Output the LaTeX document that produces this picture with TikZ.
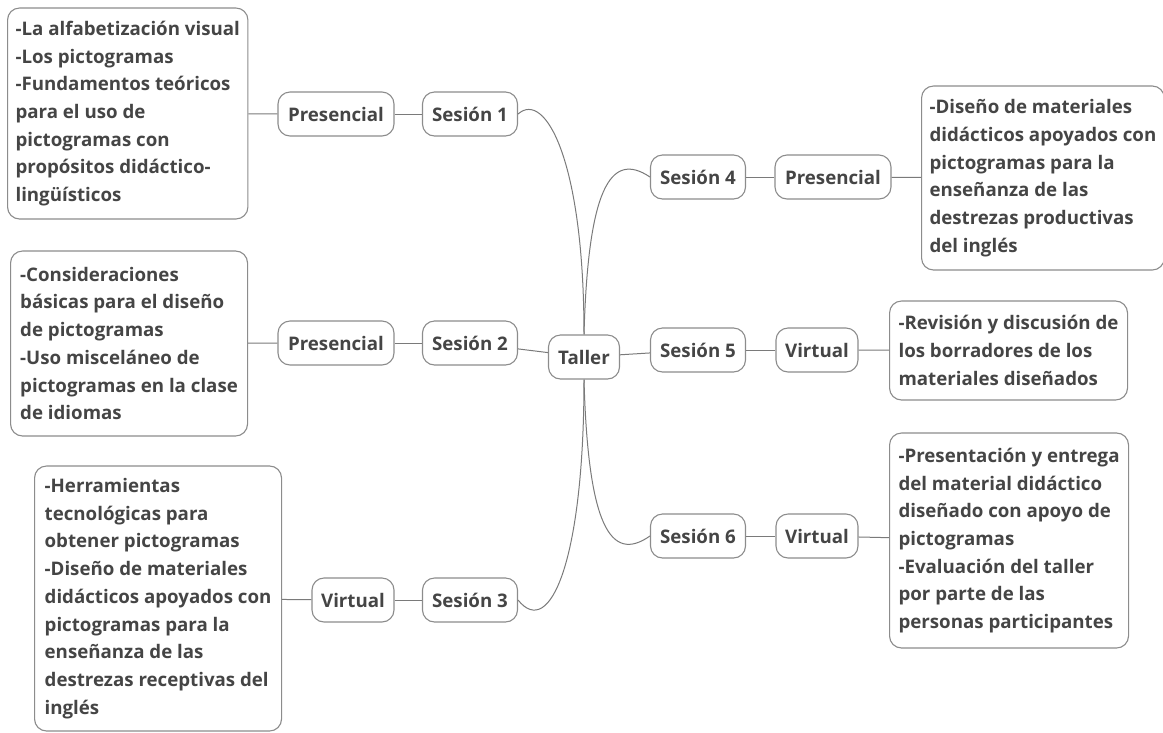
\documentclass[tikz,border=0pt]{standalone}
\usepackage{fontspec}
\setmainfont{Open Sans}
\definecolor{txtgray}{HTML}{454545}
\definecolor{linegray}{HTML}{7A7A7A}
\definecolor{boxgray}{HTML}{8C8C8C}
\tikzset{
  base/.style={draw=boxgray,line width=1.1pt,rounded corners=12pt,fill=white,
    text=txtgray,font=\bfseries\fontsize{18.7}{27.7}\selectfont},
  tag/.style={base,minimum height=44pt,inner xsep=9pt},
  info/.style={base,align=left,anchor=west,inner xsep=8pt,inner ysep=0pt},
  link/.style={draw=linegray,line width=1pt}
}
\begin{document}
\begin{tikzpicture}[x=1pt,y=-1pt]
  \useasboundingbox (0,0) rectangle (1163,732);
  % centre
  \node[tag,minimum width=71pt] (taller) at (584,357) {Taller};
  % left branch
  \node[tag,minimum width=95pt] (s1) at (470,114) {Sesión 1};
  \node[tag,minimum width=95pt] (s2) at (470,343) {Sesión 2};
  \node[tag,minimum width=95pt] (s3) at (470,600) {Sesión 3};
  \node[tag,minimum width=116pt] (p1) at (336,114) {Presencial};
  \node[tag,minimum width=116pt] (p2) at (336,343) {Presencial};
  \node[tag,minimum width=82pt] (v3) at (353,600) {Virtual};
  \node[info,minimum width=240pt,minimum height=211pt] (d1) at (7,113.5)
    {-La alfabetización visual\\-Los pictogramas\\-Fundamentos teóricos\\para el uso de\\pictogramas con\\propósitos didáctico-\\lingüísticos};
  \node[info,minimum width=237pt,minimum height=185pt] (d2) at (10,343.5)
    {-Consideraciones\\básicas para el diseño\\de pictogramas\\-Uso misceláneo de\\pictogramas en la clase\\de idiomas};
  \node[info,minimum width=247pt,minimum height=265pt] (d3) at (34,598.5)
    {-Herramientas\\tecnológicas para\\obtener pictogramas\\-Diseño de materiales\\didácticos apoyados con\\pictogramas para la\\enseñanza de las\\destrezas receptivas del\\inglés};
  % right branch
  \node[tag,minimum width=95pt] (s4) at (698,177) {Sesión 4};
  \node[tag,minimum width=95pt] (s5) at (698,350) {Sesión 5};
  \node[tag,minimum width=95pt] (s6) at (698,536) {Sesión 6};
  \node[tag,minimum width=116pt] (p4) at (833,177) {Presencial};
  \node[tag,minimum width=82pt] (v5) at (817,350) {Virtual};
  \node[tag,minimum width=82pt] (v6) at (817,536) {Virtual};
  \node[info,minimum width=241pt,minimum height=184pt] (d4) at (921,178)
    {-Diseño de materiales\\didácticos apoyados con\\pictogramas para la\\enseñanza de las\\destrezas productivas\\del inglés};
  \node[info,minimum width=238pt,minimum height=99pt] (d5) at (889,350.5)
    {-Revisión y discusión de\\los borradores de los\\materiales diseñados};
  \node[info,minimum width=239pt,minimum height=215pt] (d6) at (889,540.5)
    {-Presentación y entrega\\del material didáctico\\diseñado con apoyo de\\pictogramas\\-Evaluación del taller\\por parte de las\\personas participantes};
  % connectors
  \draw[link] (s1.east) .. controls (545,90) and (584,160) .. (taller.north);
  \draw[link] (s2) -- (taller);
  \draw[link] (s3.east) .. controls (550,640) and (584,560) .. (taller.south);
  \draw[link] (taller.north) .. controls (588,190) and (610,150) .. (s4.west);
  \draw[link] (taller) -- (s5);
  \draw[link] (taller.south) .. controls (588,524) and (610,564) .. (s6.west);
  \draw[link] (d1) -- (p1);
  \draw[link] (p1) -- (s1);
  \draw[link] (d2) -- (p2);
  \draw[link] (p2) -- (s2);
  \draw[link] (d3) -- (v3);
  \draw[link] (v3) -- (s3);
  \draw[link] (s4) -- (p4);
  \draw[link] (p4) -- (d4);
  \draw[link] (s5) -- (v5);
  \draw[link] (v5) -- (d5);
  \draw[link] (s6) -- (v6);
  \draw[link] (v6) -- (d6);
\end{tikzpicture}
\end{document}
